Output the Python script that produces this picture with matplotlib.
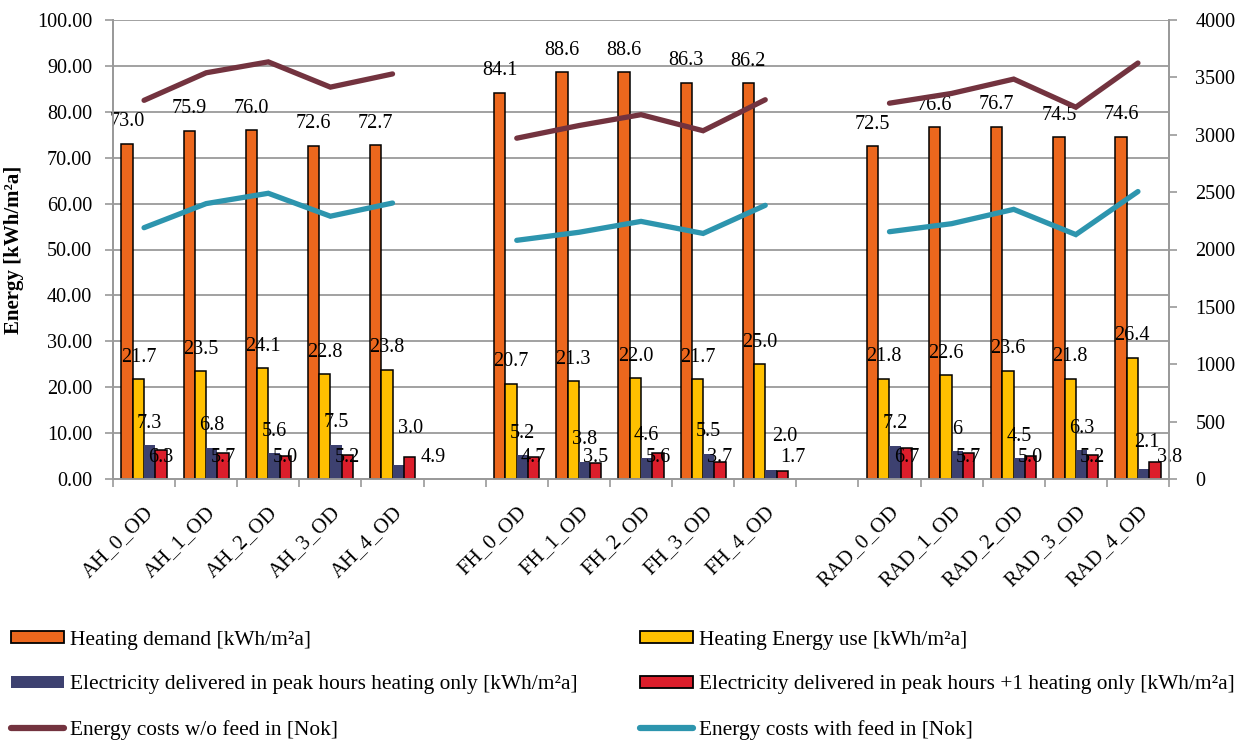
import numpy as np
import matplotlib
matplotlib.use("Agg")
import matplotlib.pyplot as plt
from matplotlib.patches import Patch
from matplotlib.lines import Line2D

plt.rcParams['font.family'] = ['Liberation Serif', 'DejaVu Serif']

categories = ['AH_0_OD', 'AH_1_OD', 'AH_2_OD', 'AH_3_OD', 'AH_4_OD', '',
              'FH_0_OD', 'FH_1_OD', 'FH_2_OD', 'FH_3_OD', 'FH_4_OD', '',
              'RAD_0_OD', 'RAD_1_OD', 'RAD_2_OD', 'RAD_3_OD', 'RAD_4_OD']

heating_demand = [73.0, 75.9, 76.0, 72.6, 72.7, None,
                  84.1, 88.6, 88.6, 86.3, 86.2, None,
                  72.5, 76.6, 76.7, 74.5, 74.6]
heating_energy_use = [21.7, 23.5, 24.1, 22.8, 23.8, None,
                      20.7, 21.3, 22.0, 21.7, 25.0, None,
                      21.8, 22.6, 23.6, 21.8, 26.4]
elec_peak = [7.3, 6.8, 5.6, 7.5, 3.0, None,
             5.2, 3.8, 4.6, 5.5, 2.0, None,
             7.2, 6, 4.5, 6.3, 2.1]
elec_peak_plus1 = [6.3, 5.7, 5.0, 5.2, 4.9, None,
                   4.7, 3.5, 5.6, 3.7, 1.7, None,
                   6.7, 5.7, 5.0, 5.2, 3.8]

cost_without_feed_in = [3300, 3540, 3635, 3415, 3530, None,
                        2970, 3080, 3175, 3035, 3305, None,
                        3275, 3360, 3485, 3240, 3625]
cost_with_feed_in = [2190, 2400, 2490, 2290, 2405, None,
                     2080, 2150, 2245, 2140, 2385, None,
                     2155, 2225, 2350, 2130, 2505]

bar_series = [
    ('Heating demand [kWh/m²a]', heating_demand, '#EC671D', 'black'),
    ('Heating Energy use [kWh/m²a]', heating_energy_use, '#FFC000', 'black'),
    ('Electricity delivered in peak hours heating only [kWh/m²a]', elec_peak, '#3D4170', 'none'),
    ('Electricity delivered in peak hours +1 heating only [kWh/m²a]', elec_peak_plus1, '#DC1E2B', 'black'),
]
line_series = [
    ('Energy costs w/o feed in [Nok]', cost_without_feed_in, '#73333F'),
    ('Energy costs with feed in [Nok]', cost_with_feed_in, '#2D95AE'),
]

FS = 14.5
LEG_FS = 15.4
grid_col = '#9A9A9A'

# hand-placed value labels: (series, category) -> extra (dx, dy) in pixels
label_nudge = {
    (2, 4): (12, 15), (2, 10): (14, 11), (2, 16): (3, 5),
    (3, 4): (24, 0), (3, 10): (11, 0), (3, 16): (15, 0),
}

fig = plt.figure(figsize=(12.4, 7.4), dpi=100)
ax = fig.add_axes([113 / 1240, 1 - 479 / 740, (1169 - 113) / 1240, (479 - 20) / 740])
ax2 = ax.twinx()

x = np.arange(len(categories))
w = 0.182
offsets = [-1.5, -0.5, 0.5, 1.5]

for (label, vals, col, ec), off in zip(bar_series, offsets):
    arr = np.array([np.nan if v is None else v for v in vals], dtype=float)
    ax.bar(x + off * w, arr, width=w, color=col, edgecolor=ec,
           linewidth=1.1 if ec != 'none' else 0, zorder=3)

# value labels above the bars
for si, ((label, vals, col, ec), off) in enumerate(zip(bar_series, offsets)):
    for i, v in enumerate(vals):
        if v is None:
            continue
        xp = x[i] + off * w
        dx, dy = label_nudge.get((si, i), (0, 0))
        if si < 3:
            ax.annotate(f"{v}", (xp, v), xytext=(dx, 22 + dy), textcoords='offset pixels',
                        ha='center', va='center', fontsize=FS, zorder=5)
        else:
            ax.annotate(f"{v}", (xp, 0), xytext=(dx, 22 + dy), textcoords='offset pixels',
                        ha='center', va='center', fontsize=FS, zorder=5)

for label, vals, col in line_series:
    arr = np.array([np.nan if v is None else v for v in vals], dtype=float)
    ax2.plot(x, arr, color=col, linewidth=3.8, solid_capstyle='round',
             solid_joinstyle='miter')

ax.set_xlim(-0.5, len(categories) - 0.5)
ax.set_ylim(0, 100)
ax.set_yticks(np.arange(0, 101, 10))
ax.set_yticklabels([f"{t:.2f}" for t in np.arange(0, 101, 10)], fontsize=FS)
ax2.set_ylim(0, 4000)
ax2.set_yticks(np.arange(0, 4001, 500))
ax2.set_yticklabels([f"{t}" for t in np.arange(0, 4001, 500)], fontsize=FS)

ax.set_xticks(np.arange(-0.5, len(categories), 1.0), minor=False)
ax.set_xticklabels([])
ax.set_xticks(x, minor=True)
ax.set_xticklabels(categories, minor=True, rotation=45, ha='right',
                   rotation_mode='anchor', fontsize=15)
ax.tick_params(axis='x', which='minor', length=0, pad=17)
ax.tick_params(axis='x', which='major', length=6, color=grid_col, width=1.2, direction='out')
ax.tick_params(axis='y', length=6, color=grid_col, width=1.2, direction='out', pad=9)
ax2.tick_params(axis='y', length=6, color=grid_col, width=1.2, direction='out', pad=13)

ax.grid(axis='y', color=grid_col, linewidth=1.3, zorder=0)
ax.set_axisbelow(True)
for a in (ax, ax2):
    a.spines['top'].set_visible(False)
    for s in ('left', 'right', 'bottom'):
        a.spines[s].set_color(grid_col)
        a.spines[s].set_linewidth(1.3)

ax.set_ylabel('Energy [kWh/m²a]', fontsize=15, fontweight='bold', labelpad=9)

handles = []
labels = []
for label, vals, col, ec in bar_series:
    handles.append(Patch(facecolor=col, edgecolor=ec, linewidth=1.3 if ec != 'none' else 0))
    labels.append(label)
for label, vals, col in line_series:
    handles.append(Line2D([0], [0], color=col, linewidth=4.5, solid_capstyle='round'))
    labels.append(label)

order = [0, 2, 4, 1, 3, 5]
fig.legend([handles[i] for i in order], [labels[i] for i in order],
           loc='upper left', bbox_to_anchor=(-0.003, 0.168), ncol=2, frameon=False,
           fontsize=LEG_FS, handlelength=2.48, handleheight=0.47, handletextpad=0.28,
           labelspacing=1.2, columnspacing=2.92, borderaxespad=0.3)

fig.savefig('out.png', dpi=100)
